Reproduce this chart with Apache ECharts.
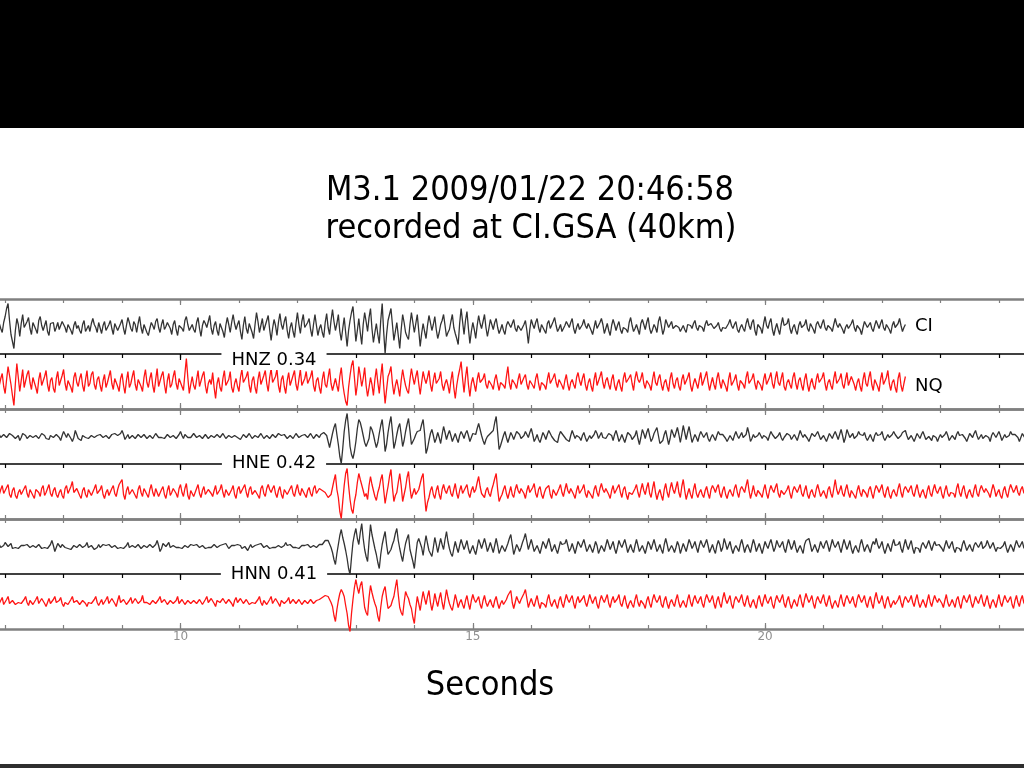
<!DOCTYPE html>
<html><head><meta charset="utf-8">
<script src="https://cdn.jsdelivr.net/npm/echarts@6/dist/echarts.min.js"></script>
<style>html,body{margin:0;padding:0;background:#fff}#c{width:1024px;height:768px}</style>
</head><body><div id="c"></div>
<script>
// time of first sample (s) and sample step (s)
const T0 = 6.9, DT = 0.025;
const xTickLabels = [10, 15, 20];
const xMinorTicks = [7,8,9,10,11,12,13,14,15,16,17,18,19,20,21,22,23,24];
const channels = ['HNZ 0.34', 'HNE 0.42', 'HNN 0.41'];
const networks = ['CI', 'NQ'];

// CI HNZ (amplitude units)
const ciHNZ = [
3,-2,-6,4,10,18,23,6,-8,-15,-22,-4,8,2,-10,3,12,-1,-3,5,9,-2,-8,4,2,-3,-7,6,10,1,-4,-2,6,-5,-9,3,1,4,-5,-1,
4,-3,-2,5,7,-1,-6,2,3,-4,-8,1,5,-2,1,-4,-7,2,6,-5,-3,1,-5,3,8,2,-1,-6,4,3,-7,1,5,-4,-3,2,6,-2,-8,3,
2,-4,-5,3,7,-2,-8,1,9,4,-2,-5,5,2,-6,3,10,-1,-7,2,1,-6,-9,-2,4,1,-3,5,8,-1,-6,2,7,-3,0,4,5,-2,-8,2,
6,-3,-9,1,3,-2,-5,6,10,2,-4,-1,2,-3,-6,4,9,-2,-10,1,6,3,-1,5,11,-2,-8,1,5,-4,-9,3,2,-5,-11,1,9,2,-6,4,
12,3,-3,2,6,-5,-13,1,10,-2,-7,3,4,-6,-12,2,14,5,-6,1,8,-4,-2,6,11,-3,-14,-2,7,1,-9,4,13,2,-3,5,10,-4,-12,-1,
4,-5,-11,3,14,2,-7,5,12,-1,-3,4,8,-3,-10,2,12,1,-9,-2,2,-6,-11,4,13,-1,-8,6,17,5,-4,3,12,-5,-14,-2,9,-6,-20,-4,
6,14,20,3,-15,-4,8,-6,-18,2,14,5,-5,9,18,-2,-16,-6,3,-8,-17,6,23,-5,-27,-8,6,12,18,2,-14,-5,4,-9,-22,-3,12,4,-6,-10,
-13,2,14,4,-6,3,12,-4,-20,-7,3,-5,-12,1,11,4,-4,2,10,-3,-12,-6,2,6,12,1,-10,-6,-3,5,12,-1,-7,-12,-18,3,18,5,-8,6,
15,-2,-17,-5,4,-3,-12,1,11,3,-2,5,12,-1,-10,-2,7,2,-3,4,8,-1,-7,-3,2,-4,-8,1,5,2,-1,3,7,-2,-5,1,3,-4,-6,2,
6,-4,-17,-3,7,2,-2,4,8,-1,-6,2,1,-4,-7,3,6,-2,-3,5,9,1,-5,-2,2,-5,-7,1,5,3,-1,4,8,-2,-7,-1,3,-3,-5,2,
7,1,-2,3,5,-4,-8,-1,6,-2,0,4,8,2,-7,-2,3,-4,-9,1,7,2,-4,1,5,-3,-7,-1,1,-3,-6,4,9,1,-5,-2,2,-3,-8,3,
7,2,-3,4,9,-2,-7,-3,2,-1,-6,5,10,1,-8,-3,7,3,-1,2,5,-2,-4,1,3,-1,-5,-2,1,-3,-6,2,4,1,-2,3,6,-1,-4,1,
2,-1,-5,2,6,1,-1,3,5,-2,-3,1,4,-2,-5,-1,1,-2,-4,3,7,1,-2,2,5,-3,-6,-1,2,-2,-5,3,8,1,-3,4,7,-4,-9,2,
4,-2,-7,3,10,1,-2,4,8,-3,-9,-2,3,-3,-8,2,9,1,-1,3,8,-2,-7,-1,2,-4,-8,1,5,-1,-3,2,7,-2,-5,3,1,-3,-7,2,
5,1,-2,3,7,-1,-4,1,3,-2,-5,2,8,2,-1,3,5,-3,-7,-1,2,-2,-4,3,7,-1,-5,1,3,-3,-8,-1,5,2,-1,1,4,-2,-5,1,
6,2,-2,3,7,-1,-4,2,1,-3,-7,1,5,-1,-3,3,8,1,-5,-1,2];

// NQ HNZ
const nqHNZ = [
-4,3,8,-5,-12,2,15,6,-3,-14,-24,-2,18,4,-10,1,12,-6,-5,7,11,-1,-8,4,3,-6,-12,2,9,-4,-2,5,11,-3,-10,1,4,-7,-11,3,
10,-4,-3,6,12,-2,-9,1,2,-6,-11,4,9,-1,-5,3,8,-4,-10,2,11,-5,-2,7,10,-3,-8,2,5,-4,-10,1,7,-6,-1,5,11,-2,-8,3,
4,-5,-10,3,8,-4,-12,1,10,-6,-2,5,11,-3,-9,2,3,-5,-10,4,12,-1,-6,3,9,-4,-11,2,13,-5,-4,6,10,-3,-12,1,8,-6,-3,5,
11,-2,-8,3,4,-5,-9,8,23,4,-12,-3,5,-4,-8,2,11,-5,-3,6,10,-4,-12,-2,2,-3,9,-6,-17,-2,4,-6,-10,3,11,-4,-5,2,10,-6,
-11,-2,3,-5,-10,4,12,-1,-2,5,10,-4,-11,1,5,-6,-12,2,10,-3,-4,6,11,-2,-10,4,13,-1,-3,5,12,-4,-11,2,6,-5,-12,1,9,-4,
-2,6,11,-3,-9,2,12,-4,-5,3,10,-2,-1,5,11,-4,-10,1,4,-6,-12,2,10,-3,-6,4,13,-2,-9,-3,3,-4,-10,5,14,-2,-12,-20,-24,-6,
6,16,21,4,-14,-3,15,6,-5,3,14,-4,-15,-6,4,-3,-14,2,13,-1,-12,5,18,-4,-22,-8,5,9,15,-2,-13,-4,2,-6,-15,1,12,3,-4,-9,
-12,2,13,4,-3,5,11,-2,-13,-1,10,3,-2,4,11,-3,-10,1,9,-2,-4,3,10,-3,-9,-2,2,-4,-12,1,10,-6,-17,-4,5,12,20,3,-11,4,
15,-3,-15,-2,4,-3,-10,2,9,-1,-2,3,8,-3,-7,1,3,-4,-8,2,7,-2,-9,-1,1,-4,-7,5,15,-1,-8,2,4,-3,-7,2,8,-3,-2,4,
7,-3,-8,1,2,-4,-7,3,8,-2,-9,-1,1,-4,-8,2,9,-2,-3,4,8,-1,-6,2,3,-4,-8,1,7,-3,-9,-1,2,-3,-7,4,9,1,-4,3,
8,-3,-9,-1,3,-5,-10,2,9,-4,-2,5,10,-1,-7,1,4,-3,-8,2,7,-4,-9,-2,2,-5,-10,3,9,-1,-3,4,7,-2,-9,3,10,2,-1,3,
9,-2,-7,1,3,-4,-9,2,10,-1,-4,3,7,-3,-9,-1,2,-5,-10,3,9,-2,-7,1,4,-5,-9,2,7,-3,-1,4,9,-4,-10,-2,3,-2,-7,2,
9,-4,-2,5,10,-1,-9,-2,4,-3,-8,3,9,-1,-7,2,1,-5,-10,2,9,-4,-3,2,7,-3,-9,1,2,-3,-7,4,10,-2,-4,3,8,-2,-8,1,
3,-4,-9,2,8,-3,-2,4,9,-2,-7,3,10,-1,-4,3,9,-5,-9,-1,2,-3,-7,4,9,-2,-8,1,4,-4,-9,2,8,-3,-10,-2,3,-4,-8,2,
8,-1,-3,4,9,-2,-9,-1,2,-4,-8,3,10,-2,-4,3,8,-3,-7,2,9,-4,-2,5,7,-3,-9,-1,3,-5,-10,2,9,-2,-5,4,10,-3,-9,2,
3,-5,-10,2,9,-3,-4,4,11,-2,-9,-1,2,-6,-11,3,9,-4,-10,-2,5];

// CI HNE
const ciHNE = [
2,-1,-3,2,1,-1,-2,3,4,1,0,-2,-3,1,-4,-1,3,2,1,-2,-2,1,3,-1,-3,1,2,-2,-1,3,4,1,-2,-3,-3,1,2,-1,0,2,
3,-1,-4,1,5,2,-1,3,2,-2,-5,-1,6,2,-2,-3,-4,1,3,-1,1,-2,-4,1,3,-1,-2,1,0,2,4,-1,-3,1,2,-2,-3,2,1,3,
4,1,-1,3,6,2,-3,-1,2,-2,-4,1,1,-2,-3,2,4,-1,0,2,3,-2,-4,1,2,-2,-1,3,4,-1,-3,-1,1,-2,-2,2,4,-1,-3,1,
1,-2,-4,2,5,1,-2,2,3,-1,-3,-1,0,3,4,-1,-2,1,3,-2,-3,2,1,-2,-4,1,2,-1,-2,2,3,-1,-1,3,4,-2,-3,1,2,-1,
-3,1,3,-1,-1,-3,-4,2,3,-1,0,3,4,-2,-3,1,2,-1,-2,3,4,-2,-4,1,1,-2,-3,2,3,-1,-2,3,4,1,-1,2,3,-2,-3,1,
2,-2,-1,3,4,-1,-3,1,0,2,3,-1,-2,3,4,-2,-3,2,1,-1,2,3,4,2,1,-5,-11,-4,3,9,13,2,-8,-20,-27,-12,5,16,23,8,
-10,-18,-22,-15,-5,8,17,14,8,1,-6,-10,-12,-2,10,7,2,-5,-11,-6,3,11,17,3,-15,-8,4,13,20,5,-12,-6,2,9,13,2,-10,-4,5,12,
18,6,-8,-6,-2,2,5,7,6,12,17,3,-17,-12,-4,3,7,1,-6,-2,4,-1,-7,2,10,4,-3,2,6,1,-5,-1,3,-2,-6,1,5,2,-2,3,
6,1,-5,-1,3,1,2,8,13,7,1,-4,-8,-3,0,2,3,4,6,14,20,4,-13,-9,-4,1,5,-1,-6,-1,4,1,-3,1,5,3,2,-2,-4,1,
5,2,-1,4,8,2,-5,-2,2,-3,-6,-1,4,1,-3,2,6,3,0,-2,-4,-6,-6,1,5,3,1,-1,-3,-4,-5,1,6,2,-2,1,3,-1,-4,1,
4,-1,-5,-2,1,-2,-4,2,6,3,-2,1,4,-1,-3,-2,0,3,5,1,-4,2,6,1,-5,-2,2,-2,-6,-1,4,2,1,-3,-5,1,6,-2,-8,-1,
7,3,-2,4,8,1,-5,-2,3,6,9,1,-7,-6,-4,2,6,-1,-8,-2,7,3,-1,4,9,2,-6,2,11,4,-3,4,10,2,-6,-2,2,-1,-5,1,
5,2,-1,1,4,-2,-5,-1,2,-1,-4,1,5,2,0,2,3,-2,-5,-2,1,-1,-4,1,5,1,-2,1,4,-1,-3,2,9,3,-5,-2,2,-1,-3,1,
4,1,-2,1,3,-1,-4,1,5,2,0,-2,-3,1,4,-1,-4,-1,1,3,5,1,-3,-1,2,-1,-4,1,6,2,-1,2,4,-2,-5,-1,3,1,0,2,
5,1,-3,-1,1,-2,-5,-1,3,1,-2,2,5,1,-3,2,7,1,-6,-1,7,3,-1,1,3,-2,-4,1,5,2,0,1,4,-1,-4,-1,2,-2,-5,1,
4,1,-1,2,5,-1,-4,-1,2,-1,-3,2,5,2,0,-2,-3,1,4,2,6,1,-3,-1,1,-2,-5,-1,3,1,-2,2,5,1,-3,-2,0,-2,-4,1,
3,-1,-5,-1,2,-1,-2,2,5,1,-4,-2,1,-1,-3,2,5,1,0,2,4,-2,-5,-1,3,1,-1,3,6,1,-3,-1,2,-2,-4,1,3,-1,-5,1,
4,2,-1,2,5,1,-4,-1,2,-1,-3,1,5,2,0,2,4,-1,-5,-1,3,1,-2];

// NQ HNE
const nqHNE = [
-3,2,6,-2,-1,4,7,-3,-6,1,4,-4,-7,-1,2,-3,-4,3,6,-2,-6,2,1,-4,-7,2,4,-1,-5,3,6,-4,-1,3,7,-2,-5,1,4,-3,
-6,-1,2,-4,-7,3,6,-2,-4,5,10,-1,-2,3,5,-4,-7,1,4,-3,-6,2,1,-4,-5,3,7,-2,-4,2,6,-3,-7,-1,2,-4,-4,3,6,-2,
-5,2,7,9,12,-3,-8,1,5,-3,-2,2,4,-4,-7,2,6,-1,-5,3,1,-3,-6,2,7,-1,-5,3,2,-5,-4,2,5,-3,-7,1,6,-4,-1,3,
4,-2,-6,3,7,-1,-5,3,8,-4,-8,1,2,-5,-4,3,7,-2,-6,1,5,-3,-1,2,4,-2,-5,1,6,-3,-4,2,7,-1,-6,2,1,-4,-5,2,
6,-3,-7,2,5,-2,-1,4,7,-1,-6,2,5,-3,-5,1,2,-4,-7,3,6,-2,-5,3,7,2,-1,3,6,-2,-6,1,5,-3,-7,2,4,-3,-2,3,
6,-2,-5,2,7,-1,-4,3,2,-3,-6,1,4,-2,-5,3,6,-2,-1,3,5,1,3,-1,-2,-6,-8,-3,4,11,17,2,-6,-20,-27,-10,6,18,23,6,
-8,-18,-22,-10,-3,9,18,12,10,1,-5,-2,-8,6,15,7,1,-5,-9,-1,4,12,17,2,-12,-3,5,15,22,4,-10,-4,-1,9,18,6,-10,-3,4,14,
20,4,-7,-2,3,-3,-4,2,8,14,18,-4,-20,-11,-6,1,5,-3,-7,1,6,-3,-8,2,7,1,-2,3,6,-2,-5,2,8,-2,-7,1,6,-2,-3,4,
7,-2,-6,1,5,-1,2,9,15,5,-2,-4,-6,1,4,-2,-5,2,7,13,18,2,-10,-6,-3,2,6,-2,-7,-1,5,-3,-6,2,7,1,-2,3,5,-2,
-7,1,6,-1,-2,4,8,-2,-6,2,5,-3,-7,-1,3,2,6,-3,-7,2,1,-4,-6,3,7,-1,-5,2,8,1,-2,3,5,-3,-7,1,6,-2,-1,3,
7,-2,-6,1,2,-4,-7,2,6,-1,-5,3,8,2,-1,3,5,-3,-7,1,6,-2,-2,4,7,-1,-6,2,5,-3,-8,-1,1,-3,-5,3,7,-1,-6,2,
8,1,-3,4,9,-2,-6,3,10,-1,-8,-2,2,-4,-9,2,8,-1,-6,3,9,2,-2,4,10,-1,-6,5,12,1,-8,-2,3,-3,-7,2,8,-2,-6,-1,
2,-3,-6,1,5,-2,-7,2,6,3,-1,4,7,-2,-6,1,5,-3,-7,-1,2,-2,-5,3,7,-1,-6,2,5,2,-1,6,12,1,-7,-1,6,-2,-5,1,
2,-3,-6,2,7,-2,-7,1,6,2,-1,4,8,-2,-6,1,2,-3,-5,2,6,-2,-7,1,5,2,-1,3,7,-2,-5,1,6,-3,-7,-1,2,-3,-6,2,
7,1,-5,-2,1,-3,-7,2,5,-2,-6,3,12,2,-3,1,6,-2,-5,2,7,-1,-6,1,2,-4,-7,1,6,-1,-5,2,1,-2,-6,2,5,-2,-7,1,
6,3,-1,3,7,-2,-6,1,5,-3,-7,-1,2,-2,-5,3,8,-1,-6,2,5,2,-1,3,6,-2,-5,2,7,-1,-6,-1,2,-3,-7,1,6,-2,-5,2,
7,1,-2,2,5,-3,-7,1,6,-2,-5,-1,1,-2,-6,3,8,-1,-5,2,6,-2,-7,-1,2,-3,-6,2,7,-2,-5,2,6,2,-1,3,5,-2,-6,1,
7,2,-5,-1,2,-4,-7,1,5,-2,-6,2,7,3,-1,2,6,-1,-4,2,5,-1,-3];

// CI HNN
const ciHNN = [
2,-1,-3,1,4,2,0,1,3,-2,-4,-1,1,-2,-3,1,3,1,-1,2,4,-1,-3,1,2,-1,0,2,3,-2,-4,-1,1,-2,-3,2,6,1,-5,-1,
3,1,-1,2,4,-1,-3,-2,0,-3,-4,1,3,-1,1,2,3,-1,-3,1,4,-1,-2,1,0,-3,-4,-1,2,-1,-3,2,4,1,1,2,3,-1,-3,1,
2,-2,-4,-1,0,-2,-3,1,4,-1,-2,1,3,-1,1,2,2,-2,-4,1,3,-1,-2,2,4,-1,-3,2,6,1,-5,-2,3,1,0,2,4,-1,-3,1,
2,-1,-3,-1,0,-2,-4,1,2,-1,-3,2,4,1,-1,2,3,-1,-3,1,2,-2,-4,-1,0,-1,-2,2,4,-1,-3,1,3,2,1,3,2,-2,-4,1,
3,1,-1,2,4,1,-2,-1,0,-2,-4,-1,2,-1,-3,1,3,2,1,3,4,-1,-3,1,2,-2,-4,-1,0,-1,-2,1,3,-1,-3,1,4,1,-1,2,
3,-1,-3,-1,1,-2,-4,1,3,1,0,2,3,-1,-3,1,2,-1,-1,2,1,2,4,6,7,6,5,-1,-6,-13,-18,-7,2,11,17,9,3,-4,-12,-22,
-28,-11,4,12,18,8,2,14,23,8,-3,-10,-15,5,22,12,5,-2,-8,-16,-22,-8,2,9,15,2,-8,-6,-3,2,6,13,18,6,-2,-9,-15,-5,3,8,
12,-3,-5,-15,-22,-8,4,8,10,-1,-9,2,11,3,-4,-7,-10,-1,9,2,-6,1,8,2,-3,7,15,5,-2,-7,-10,-2,5,-1,-6,1,7,2,-3,1,
6,-2,-7,-3,1,-4,-8,-1,7,3,-2,3,8,2,-5,-1,4,-1,-6,1,8,1,-7,-3,1,-2,-5,-1,3,8,12,2,-8,-3,2,-1,-5,-1,4,8,
13,5,-3,2,7,1,-5,-2,1,-3,-7,-1,5,2,-2,3,8,2,-5,-2,2,-3,-7,-1,5,2,0,3,7,1,-5,-2,3,-2,-7,-1,5,2,-1,3,
7,1,-5,-2,2,-2,-6,-1,5,1,-7,-3,1,-2,-5,1,7,2,-3,1,5,-2,-7,-1,6,2,-1,3,7,1,-6,-2,2,-3,-6,1,7,1,-5,-2,
1,-3,-7,-1,5,2,-3,2,7,1,-5,-2,2,-3,-7,2,8,2,-5,-2,1,-2,-6,-1,5,1,-7,-2,3,-1,-5,1,7,3,-2,1,5,-1,-6,1,
6,2,-1,3,7,1,-6,-2,2,-3,-7,1,6,2,-5,-1,8,3,-3,1,5,-2,-7,-2,1,-2,-5,2,7,1,-6,-1,2,-2,-6,1,7,2,-5,-1,
3,-2,-7,-1,5,1,-2,3,7,1,-5,-1,6,2,-1,2,5,-2,-6,1,7,2,-3,1,6,-1,-6,-2,1,-3,-7,2,6,7,8,2,-5,-2,2,-2,
-6,-1,5,1,-2,3,6,1,-5,1,7,2,-1,2,5,-1,-6,1,7,2,-3,1,6,-2,-7,-2,1,-3,-6,2,7,1,-5,-1,2,-2,-6,1,5,2,
8,2,-2,1,5,-2,-7,-2,3,-1,-5,2,7,1,-1,2,5,-2,-6,1,7,1,-3,2,6,-2,-7,-1,1,-2,-6,1,4,1,-2,2,6,1,-4,1,
5,1,-1,2,4,-2,-5,1,6,1,-2,2,5,-2,-6,-1,1,-2,-5,2,6,1,-4,-1,2,-2,-5,1,4,2,-1,2,5,-2,-4,1,6,2,-2,1,
4,-1,-5,-1,1,-2,-4,1,5,-1,-6,-2,2,-1,-5,1,6,2,-1,2,5,-1,-3];

// NQ HNN
const nqHNN = [
-2,1,4,-3,-1,2,5,-2,-4,1,3,-3,-5,-1,1,-2,-3,2,5,-1,-4,1,2,-3,-4,2,5,-2,-1,3,4,-2,-5,-1,3,-2,0,2,5,-1,
-3,1,4,-2,-5,-1,1,-3,-4,2,5,-1,-3,1,2,-3,-4,1,3,-2,-5,-1,1,-2,-3,2,5,-1,-4,-2,2,-3,-4,2,5,-2,-1,3,4,-2,
-5,1,6,-1,-2,2,3,-3,-5,1,4,-2,-1,3,5,-2,-4,1,6,-1,-3,-1,1,-3,-5,1,3,-2,-4,2,5,-1,-2,2,4,-3,-5,1,2,-2,
-4,1,5,-2,-1,2,4,-3,-5,1,3,-2,-4,1,2,-2,-3,2,4,-3,-4,2,5,-1,-1,3,4,-2,-5,1,3,-1,-2,3,5,-2,-4,2,1,-2,
-5,1,4,-1,-2,3,5,-2,-4,2,3,-3,-5,-1,1,-2,-3,2,5,-1,-4,1,2,-3,-4,2,5,-2,-1,3,4,-2,-5,1,3,-2,-2,1,4,-2,
-3,2,4,-2,-1,2,3,-3,-5,1,2,-2,-3,2,4,-2,-4,1,1,2,2,4,5,6,6,5,4,-1,-5,-14,-20,-8,1,8,12,9,5,-4,-12,-24,
-30,-12,2,14,22,14,8,16,20,7,-6,-11,-14,4,16,9,3,-2,-6,-15,-20,-6,5,11,15,3,-7,-6,-4,1,5,14,22,7,-6,-11,-14,-1,10,6,
3,-3,-7,-16,-22,-7,5,-2,-9,1,10,3,-3,5,11,-1,-9,-2,8,1,-5,3,9,-1,-8,2,12,4,-2,-6,-9,-1,7,1,-6,-1,2,-3,-7,1,
6,-2,-8,1,7,2,-1,2,5,-3,-7,1,6,-1,-5,-1,2,-3,-6,1,5,-2,-7,-2,1,-3,-5,2,6,8,11,-1,-7,-1,5,1,-2,2,5,8,
12,3,-6,-1,3,-2,-5,1,6,-2,-7,-1,1,-3,-6,2,7,-1,-5,-1,2,-3,-7,1,5,-2,-6,1,7,2,-1,3,6,-2,-7,1,5,-1,-2,3,
6,-1,-5,1,7,2,-2,2,5,-3,-7,1,6,2,-1,3,7,-2,-6,1,5,-1,-2,3,7,-2,-5,1,6,-2,-7,-2,1,-3,-6,2,7,-1,-5,1,
2,-3,-7,1,5,-2,-6,2,7,2,-1,2,6,-3,-6,1,5,-2,-7,-1,2,-2,-5,2,7,-1,-6,-2,1,-3,-6,2,7,-1,-5,2,6,1,-2,2,
5,-2,-6,2,7,3,-1,2,6,-2,-7,1,5,-2,-6,3,9,2,-2,2,6,-3,-7,1,5,2,-1,3,7,-1,-5,1,6,-2,-6,-1,2,-3,-7,2,
6,-1,-5,2,7,1,-2,2,5,-3,-7,1,6,2,-1,3,7,-2,-6,1,5,-2,-7,-2,2,-2,-5,3,7,-1,-6,2,8,3,-1,2,6,-2,-7,1,
5,1,-2,3,7,-1,-5,1,6,-2,-7,-2,1,-3,-6,2,7,-1,-5,2,6,2,-2,1,5,-2,-6,2,7,3,-1,2,6,-2,-6,1,5,-2,-7,3,
9,2,-2,1,6,-2,-7,1,5,-1,-6,-2,1,-3,-5,2,6,-1,-6,1,5,2,-1,2,6,-1,-5,2,7,-1,-6,-2,2,-2,-6,1,7,-1,-5,1,
6,2,-1,3,5,-2,-6,1,7,-1,-5,-2,2,-2,-6,2,5,-2,-7,1,6,2,-1,3,7,-1,-6,-1,5,1,-2,3,7,-1,-5,1,6,-2,-7,-1,
2,-2,-6,1,7,-1,-5,1,6,2,-1,2,5,-3,-7,1,6,-1,-5,2,6,-1,-4];

const traceData = [ciHNZ, nqHNZ, ciHNE, nqHNE, ciHNN, nqHNN];
const traceColors = ['#333333', '#ff1414', '#333333', '#ff1414', '#333333', '#ff1414'];

// ---- layout ----
const BAND_TOP = 299, BAND_H = 55;
const X_MIN = 6.912, X_MAX = 24.429;   // visible time span (s)
const FONT_T = "'DejaVu Sans Condensed','DejaVu Sans','Liberation Sans',sans-serif";
const FONT = "'DejaVu Sans','Liberation Sans',sans-serif";

const grids = [], xAxes = [], yAxes = [], series = [];
function axisDef(k, pos, color, width, ticks, tickLen, showLine, labels) {
  return {
    gridIndex: k, type: 'value', position: pos, offset: 0, min: X_MIN, max: X_MAX,
    axisLine: { show: showLine, onZero: false, lineStyle: { color: color, width: width } },
    axisTick: { show: true, inside: true, length: tickLen, customValues: ticks, lineStyle: { color: color, width: 1.2 } },
    splitLine: { show: false },
    axisLabel: labels ? {
      show: true, color: '#909090', fontSize: 12, margin: 2, fontFamily: FONT,
      customValues: xTickLabels, formatter: v => String(Math.round(v))
    } : { show: false }
  };
}
for (let k = 0; k < 6; k++) {
  grids.push({ left: 0, right: 0, top: BAND_TOP + k * BAND_H, height: BAND_H, containLabel: false, outerBoundsMode: 'none' });
  const topColor = (k % 2 === 0) ? '#808080' : '#000';
  const topW = (k % 2 === 0) ? 2.5 : 1.5;
  const topIdx = xAxes.length;
  xAxes.push(axisDef(k, 'top', topColor, topW, xMinorTicks, 4, true, false));
  xAxes.push(axisDef(k, 'top', topColor, topW, xTickLabels, 6, false, false));
  if (k % 2 === 1) {
    xAxes.push(axisDef(k, 'bottom', '#808080', 2.5, xMinorTicks, 4, true, k === 5));
    xAxes.push(axisDef(k, 'bottom', '#808080', 2.5, xTickLabels, 6, false, false));
  }
  yAxes.push({ gridIndex: k, type: 'value', min: -27.5, max: 27.5, show: false });
  series.push({
    type: 'line', xAxisIndex: topIdx, yAxisIndex: k,
    data: traceData[k].map((v, i) => [T0 + i * DT, v]),
    showSymbol: false, symbol: 'none', clip: false, silent: true,
    lineStyle: { color: traceColors[k], width: 1.3 }
  });
}

const chart = echarts.init(document.getElementById('c'), null, { renderer: 'canvas' });
chart.setOption({
  animation: false,
  backgroundColor: '#fff',
  grid: grids, xAxis: xAxes, yAxis: yAxes, series: series,
  graphic: [
    { type: 'rect', shape: { x: 0, y: 0, width: 1024, height: 128 }, style: { fill: '#000' }, silent: true },
    { type: 'rect', shape: { x: 0, y: 764, width: 1024, height: 4 }, style: { fill: '#2e2e2e' }, silent: true },
    { type: 'text', style: { x: 530, y: 191, text: 'M3.1 2009/01/22 20:46:58', align: 'center', verticalAlign: 'middle', font: '34px ' + FONT_T, fill: '#000' } },
    { type: 'text', style: { x: 531, y: 229, text: 'recorded at CI.GSA (40km)', align: 'center', verticalAlign: 'middle', font: '34px ' + FONT_T, fill: '#000' } },
    { type: 'text', style: { x: 490, y: 686, text: 'Seconds', align: 'center', verticalAlign: 'middle', font: '34px ' + FONT_T, fill: '#000' } },
    { type: 'text', z: 100, style: { x: 274, y: 360, text: channels[0], align: 'center', verticalAlign: 'middle', font: '18px ' + FONT, fill: '#000', backgroundColor: '#fff', padding: [1, 10] } },
    { type: 'text', z: 100, style: { x: 274, y: 463, text: channels[1], align: 'center', verticalAlign: 'middle', font: '18px ' + FONT, fill: '#000', backgroundColor: '#fff', padding: [1, 10] } },
    { type: 'text', z: 100, style: { x: 274, y: 574, text: channels[2], align: 'center', verticalAlign: 'middle', font: '18px ' + FONT, fill: '#000', backgroundColor: '#fff', padding: [1, 10] } },
    { type: 'text', style: { x: 915, y: 326, text: networks[0], align: 'left', verticalAlign: 'middle', font: '18px ' + FONT, fill: '#000' } },
    { type: 'text', style: { x: 915, y: 386, text: networks[1], align: 'left', verticalAlign: 'middle', font: '18px ' + FONT, fill: '#000' } }
  ]
});
</script>
</body></html>
